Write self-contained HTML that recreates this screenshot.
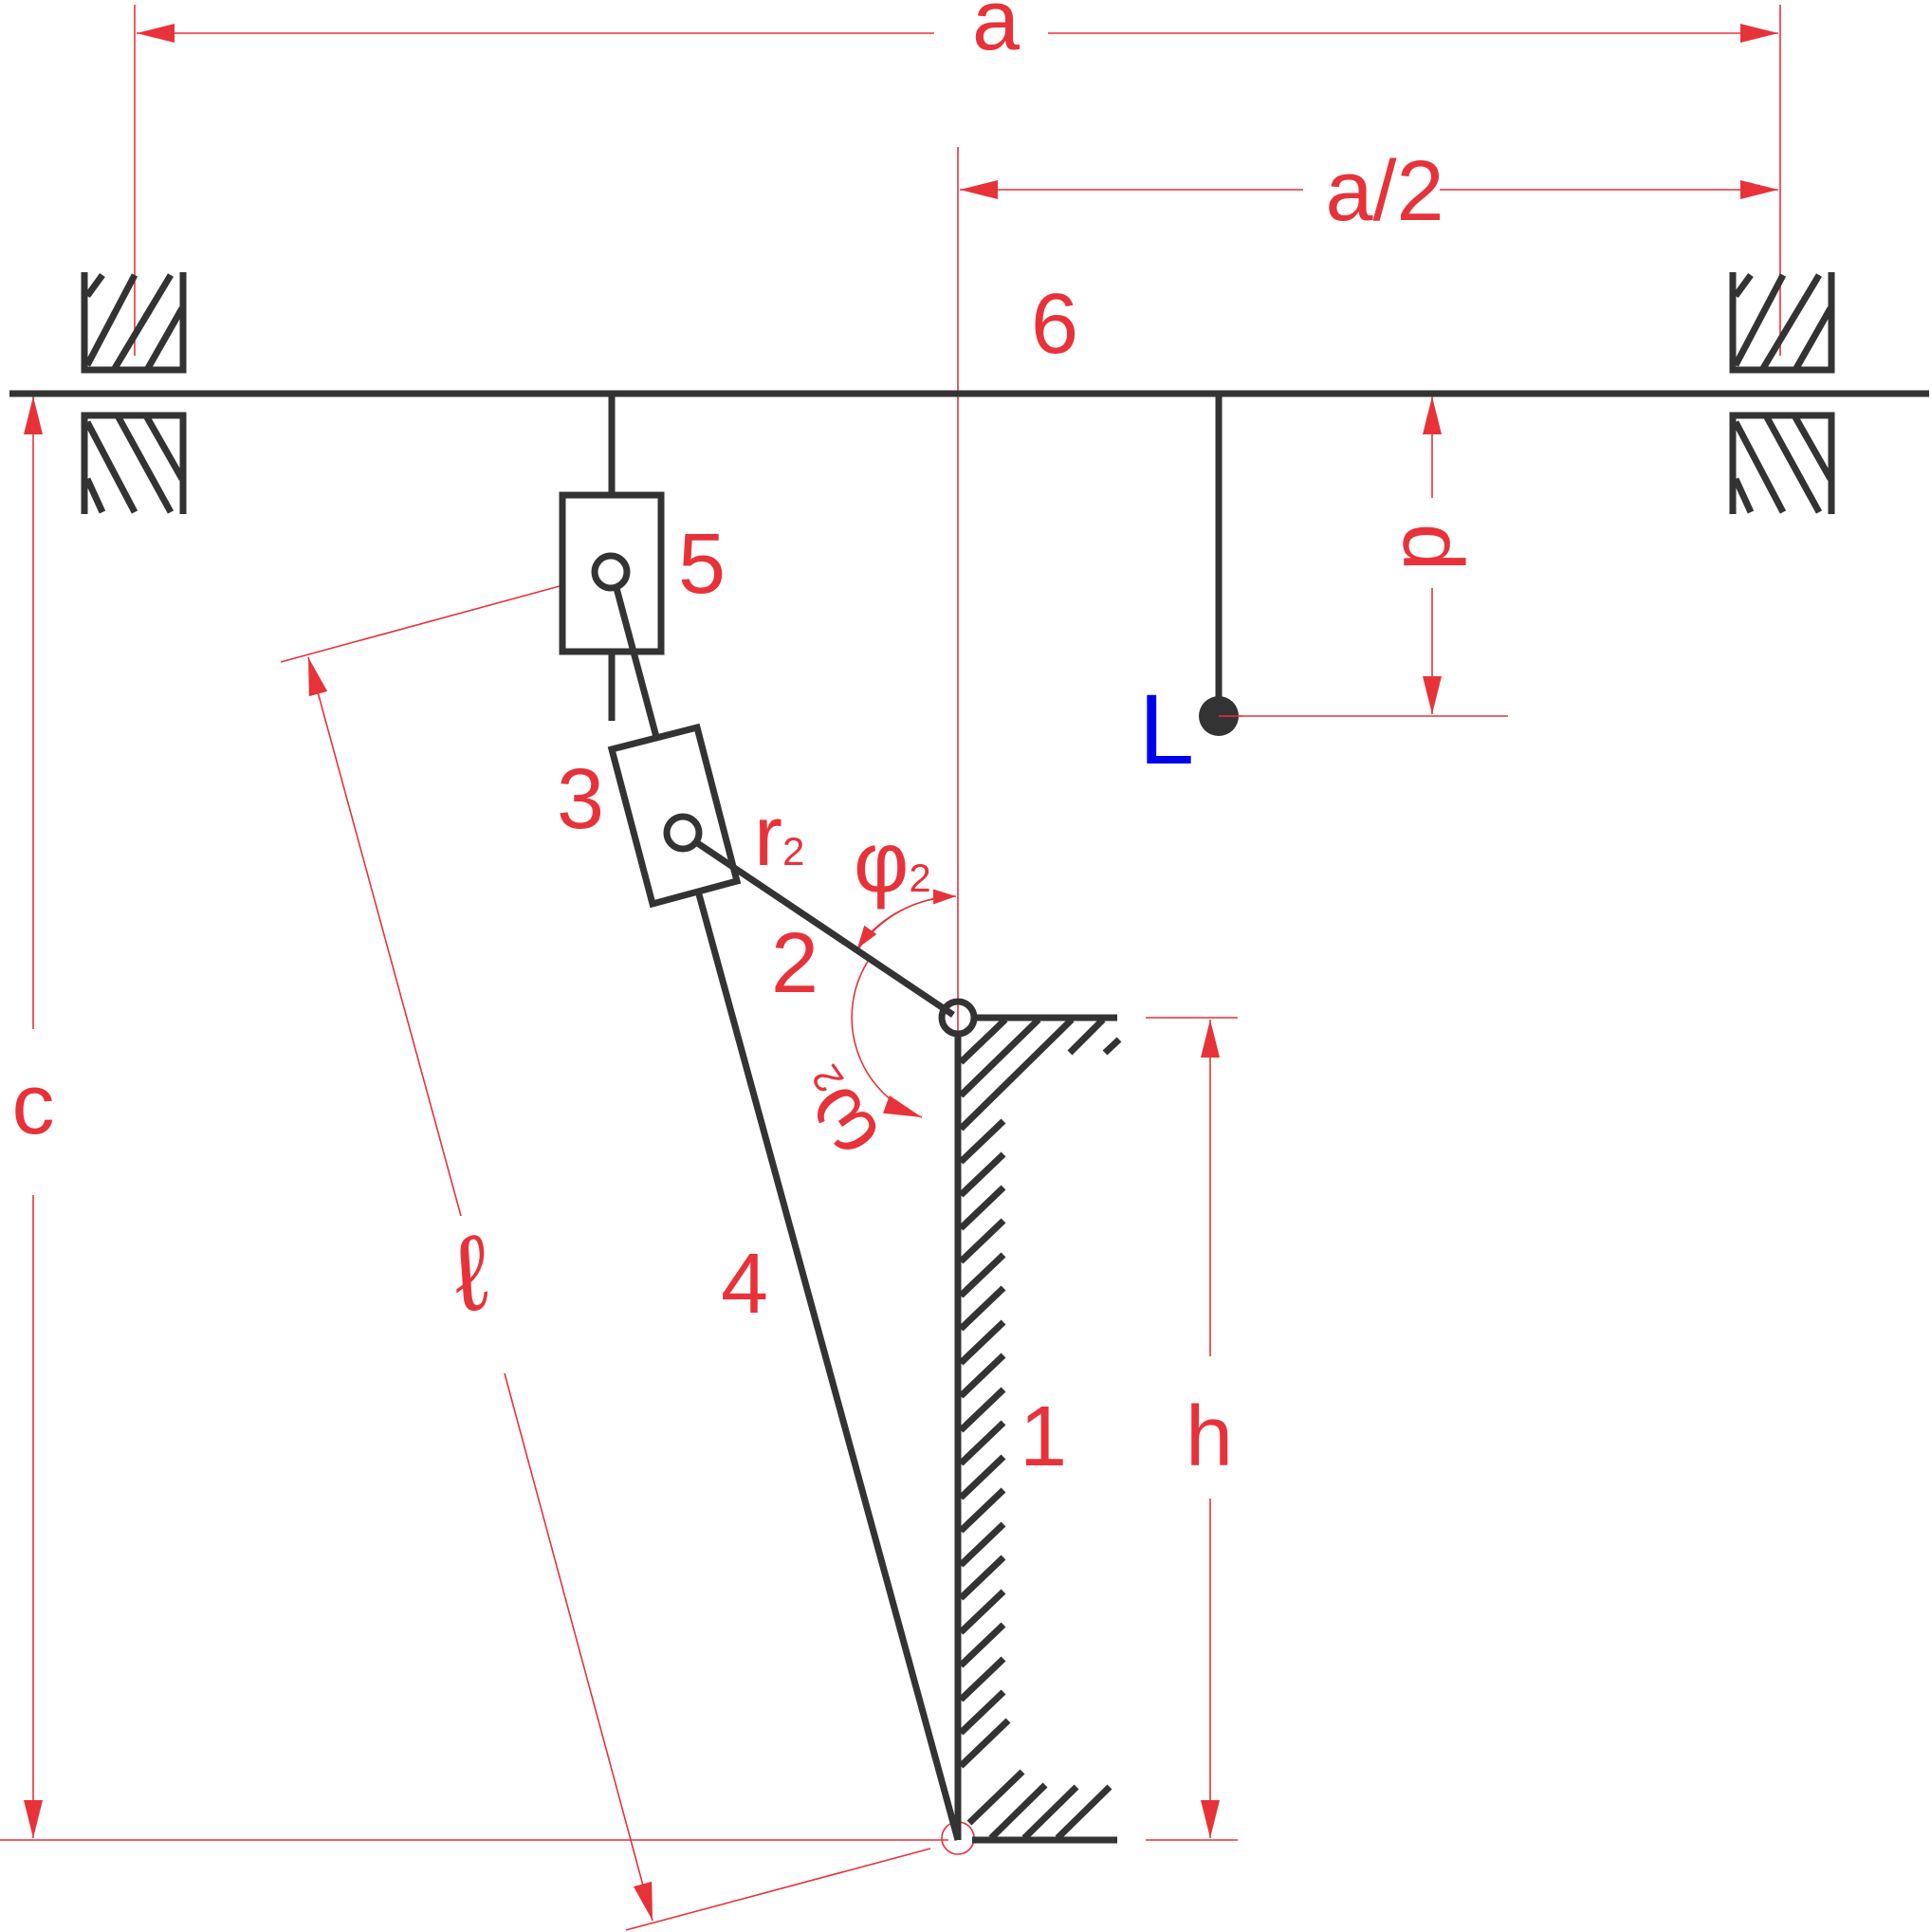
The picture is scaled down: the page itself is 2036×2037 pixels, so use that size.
<!DOCTYPE html>
<html><head><style>body{margin:0;background:#fff}svg{display:block}text{font-family:"Liberation Sans",sans-serif}</style></head><body>
<svg width="2036" height="2037" viewBox="0 0 2036 2037" xmlns="http://www.w3.org/2000/svg">
<defs>
<marker id="ar" viewBox="0 0 40 20" refX="40" refY="10" markerWidth="40" markerHeight="20" markerUnits="userSpaceOnUse" orient="auto"><path d="M0,0 L40,10 L0,20 Z" fill="#e8323a"/></marker>
<marker id="as" viewBox="0 0 24 16" refX="24" refY="8" markerWidth="24" markerHeight="16" markerUnits="userSpaceOnUse" orient="auto"><path d="M0,0 L24,8 L0,16 Z" fill="#e8323a"/></marker>
</defs>
<g stroke="#e8323a" stroke-width="1.6" fill="none">
<line x1="142" y1="5" x2="142" y2="375"/>
<line x1="1877" y1="5" x2="1877" y2="375"/>
<line x1="985" y1="35" x2="144" y2="35" marker-end="url(#ar)"/>
<line x1="1105" y1="35" x2="1875" y2="35" marker-end="url(#ar)"/>
<line x1="1374" y1="200" x2="1012" y2="200" marker-end="url(#ar)"/>
<line x1="1518" y1="200" x2="1875" y2="200" marker-end="url(#ar)"/>
<line x1="1010" y1="155" x2="1010" y2="1935"/>
<line x1="35" y1="1085" x2="35" y2="418" marker-end="url(#ar)"/>
<line x1="35" y1="1260" x2="35" y2="1938" marker-end="url(#ar)"/>
<line x1="0" y1="1940" x2="1000" y2="1940"/>
<line x1="1510" y1="525" x2="1510" y2="418" marker-end="url(#ar)"/>
<line x1="1510" y1="620" x2="1510" y2="753" marker-end="url(#ar)"/>
<line x1="1285" y1="755" x2="1590" y2="755"/>
<line x1="1208" y1="1073" x2="1305" y2="1073"/>
<line x1="1208" y1="1940" x2="1305" y2="1940"/>
<line x1="1276" y1="1430" x2="1276" y2="1075" marker-end="url(#ar)"/>
<line x1="1276" y1="1580" x2="1276" y2="1938" marker-end="url(#ar)"/>
<line x1="590" y1="618" x2="296" y2="698"/>
<line x1="981" y1="1949" x2="660" y2="2035"/>
<line x1="486" y1="1282" x2="325" y2="693" marker-end="url(#ar)"/>
<line x1="532" y1="1448" x2="688" y2="2025" marker-end="url(#ar)"/>
<circle cx="1010" cy="1938" r="17"/>
<path d="M904,1002 A128,128 0 0 1 1008,945" marker-end="url(#as)"/>
<path d="M990,947 A128,128 0 0 0 904,1000" marker-end="url(#as)"/>
<path d="M916,1012 A112,112 0 0 0 972,1178" marker-end="url(#ar)"/>
</g>
<g stroke="#333" stroke-width="7" fill="none">
<line x1="10" y1="415" x2="2034" y2="415"/>
<g id="brg">
<path d="M89,287 V390 H193 V287"/>
<path d="M89,542 V438 H193 V542"/>
<line x1="92" y1="312" x2="108" y2="290"/><line x1="92" y1="385" x2="142" y2="290"/><line x1="120" y1="390" x2="180" y2="290"/><line x1="155" y1="390" x2="192" y2="325"/>
<line x1="92" y1="445" x2="142" y2="540"/><line x1="125" y1="440" x2="180" y2="540"/><line x1="155" y1="440" x2="192" y2="505"/><line x1="92" y1="505" x2="108" y2="540"/>
</g>
<use href="#brg" x="1738"/>
<line x1="645" y1="415" x2="645" y2="522"/>
<line x1="645" y1="687" x2="645" y2="760"/>
<rect x="593" y="522" width="104" height="165"/>
<circle cx="644" cy="603" r="17"/>
<line x1="650" y1="620" x2="692" y2="777"/>
<polygon points="645,790 735,767 777,929 688,953"/>
<line x1="737" y1="943" x2="1010" y2="1940"/>
<circle cx="720" cy="878" r="17"/>
<line x1="734" y1="888" x2="1005" y2="1070"/>
<line x1="1285" y1="415" x2="1285" y2="740"/>
<circle cx="1010" cy="1073" r="17"/>
<line x1="1010" y1="1090" x2="1010" y2="1940"/>
<line x1="1027" y1="1073" x2="1178" y2="1073"/>
<line x1="1025" y1="1940" x2="1178" y2="1940"/>
<line x1="1013" y1="1120" x2="1060" y2="1075"/><line x1="1013" y1="1155" x2="1095" y2="1075"/><line x1="1013" y1="1190" x2="1130" y2="1075"/><line x1="1128" y1="1110" x2="1163" y2="1075"/><line x1="1165" y1="1110" x2="1180" y2="1096"/>
<line x1="1013" y1="1225" x2="1058" y2="1182"/><line x1="1013" y1="1260" x2="1058" y2="1217"/>
<line x1="1013" y1="1295" x2="1058" y2="1252"/><line x1="1013" y1="1330" x2="1058" y2="1287"/>
<line x1="1013" y1="1366" x2="1058" y2="1323"/><line x1="1013" y1="1401" x2="1058" y2="1358"/>
<line x1="1013" y1="1437" x2="1058" y2="1394"/><line x1="1013" y1="1472" x2="1058" y2="1429"/>
<line x1="1013" y1="1508" x2="1058" y2="1465"/><line x1="1013" y1="1543" x2="1058" y2="1500"/>
<line x1="1013" y1="1579" x2="1058" y2="1536"/><line x1="1013" y1="1614" x2="1058" y2="1571"/>
<line x1="1013" y1="1650" x2="1058" y2="1607"/><line x1="1013" y1="1685" x2="1058" y2="1642"/>
<line x1="1013" y1="1721" x2="1058" y2="1678"/><line x1="1013" y1="1756" x2="1058" y2="1713"/>
<line x1="1013" y1="1792" x2="1058" y2="1749"/><line x1="1013" y1="1827" x2="1058" y2="1784"/>
<line x1="1013" y1="1862" x2="1063" y2="1814"/>
<line x1="1022" y1="1922" x2="1078" y2="1868"/><line x1="1045" y1="1938" x2="1102" y2="1882"/><line x1="1080" y1="1938" x2="1135" y2="1884"/><line x1="1115" y1="1938" x2="1170" y2="1884"/>
</g>
<circle cx="1285" cy="755" r="21" fill="#333"/>
<line x1="1285" y1="755" x2="1310" y2="755" stroke="#e8323a" stroke-width="1.6"/>
<g fill="#e8323a" font-size="90">
<text x="1050" y="52" text-anchor="middle">a</text>
<text x="1460" y="232" text-anchor="middle">a/2</text>
<text x="1112" y="372" text-anchor="middle">6</text>
<text x="740" y="625" text-anchor="middle">5</text>
<text x="612" y="873" text-anchor="middle">3</text>
<text x="795" y="912">r<tspan font-size="42">2</tspan></text>
<text x="900" y="940">φ<tspan font-size="42">2</tspan></text>
<text x="838" y="1046" text-anchor="middle">2</text>
<text x="785" y="1384" text-anchor="middle">4</text>
<text x="1100" y="1545" text-anchor="middle">1</text>
<text x="1275" y="1545" text-anchor="middle">h</text>
<text x="35" y="1195" text-anchor="middle">c</text>
<text transform="translate(1510,577) rotate(90)" text-anchor="middle" y="30">d</text>
<text transform="translate(505,1380) rotate(-15)" text-anchor="middle" font-size="110" font-family="Liberation Serif" font-style="italic">ℓ</text>
<text transform="translate(880,1175) rotate(-125)" text-anchor="middle" y="30">ω<tspan font-size="42">2</tspan></text>
</g>
<text x="1230" y="805" text-anchor="middle" font-size="105" fill="#0000ee">L</text>
</svg>
</body></html>
